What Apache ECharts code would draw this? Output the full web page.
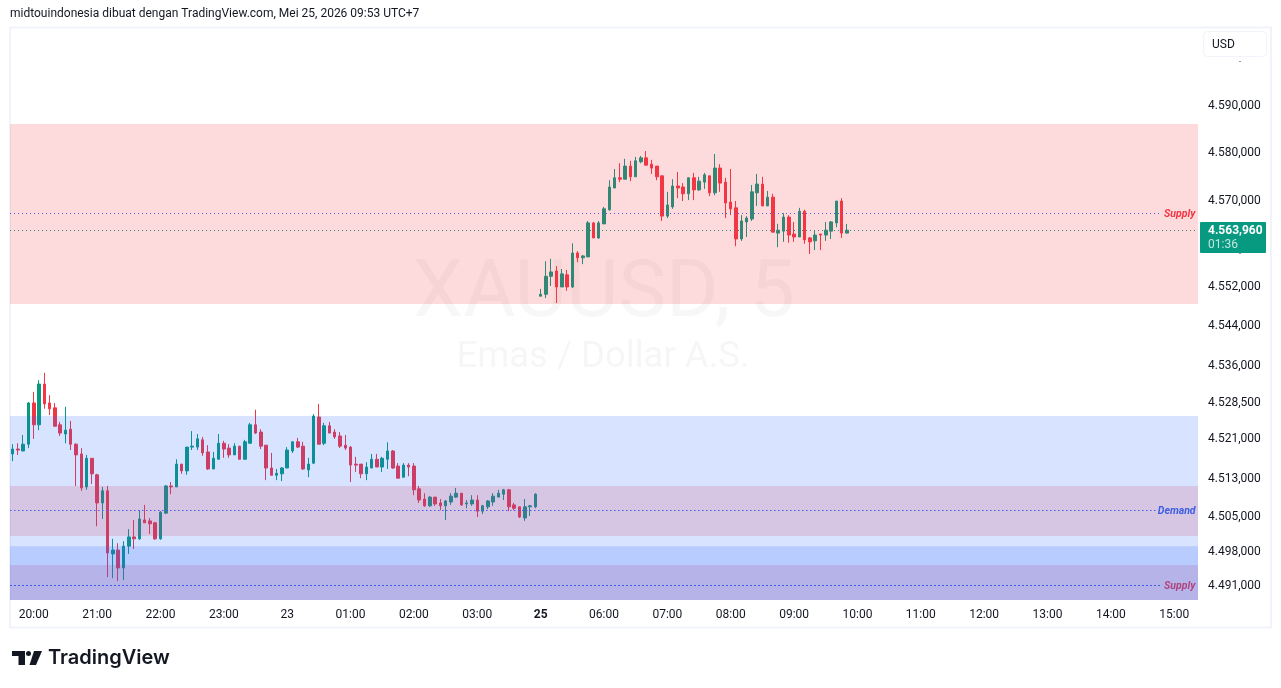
<!DOCTYPE html>
<html>
<head>
<meta charset="utf-8">
<title>XAUUSD, 5</title>
<script src="https://cdn.jsdelivr.net/npm/echarts@6/dist/echarts.min.js"></script>
<style>
html,body{margin:0;padding:0;background:#fff;}
#chart{width:1281px;height:688px;}
</style>
</head>
<body>
<div id="chart"></div>
<script>
// candles: [open, close, low, high], 5 minute bars
var fridayBars = [
[4517.9,4518.9,4516.4,4519.9],[4518.9,4518.7,4517.7,4520.1],[4518.5,4519.9,4518.5,4521.8],[4519.9,4528.4,4519.1,4528.6],
[4528.4,4523.9,4521.0,4530.7],[4523.9,4532.3,4522.8,4533.1],[4532.3,4528.2,4527.2,4534.6],[4528.4,4527.2,4525.9,4530.0],
[4527.4,4523.6,4523.6,4528.4],[4523.9,4522.2,4521.6,4524.5],[4522.0,4522.8,4520.1,4527.6],[4523.0,4519.9,4518.7,4524.7],
[4519.9,4517.7,4511.3,4520.1],[4517.9,4510.9,4510.3,4519.1],[4511.1,4517.0,4510.5,4517.7],[4517.0,4513.8,4511.7,4517.0],
[4513.6,4507.8,4503.0,4513.8],[4507.8,4510.3,4504.5,4511.1],[4510.3,4497.5,4492.5,4511.3],[4497.3,4498.1,4492.3,4500.4],
[4498.1,4494.4,4491.7,4499.5],[4494.4,4498.9,4491.9,4499.9],[4498.9,4500.8,4497.3,4502.4],[4500.8,4500.4,4498.3,4504.3],
[4500.4,4504.5,4500.2,4506.3],[4504.3,4503.7,4503.7,4507.4],[4504.1,4503.5,4501.4,4504.7],[4503.7,4500.4,4500.2,4503.9],
[4500.4,4505.9,4500.2,4506.1],[4505.7,4511.3,4505.5,4511.5],[4511.3,4511.1,4509.6,4512.1],[4511.1,4515.8,4511.1,4516.8],
[4515.8,4514.4,4513.8,4515.8],[4514.4,4519.3,4513.6,4519.3],[4519.3,4519.5,4518.7,4522.6],[4519.3,4521.0,4518.7,4522.0],
[4520.8,4518.1,4517.5,4521.4],[4518.3,4514.8,4514.6,4519.7],[4514.8,4517.0,4514.8,4518.3],[4516.8,4520.1,4516.8,4522.0],
[4520.1,4518.9,4517.1,4520.6],[4519.1,4517.7,4517.1,4519.9],[4517.7,4519.5,4517.7,4520.1],[4519.5,4516.8,4516.8,4519.5],
[4516.8,4520.4,4516.8,4520.8],[4520.1,4523.9,4520.1,4524.3],[4523.9,4522.2,4522.0,4527.0],[4522.4,4519.5,4518.9,4523.0],
[4519.7,4515.0,4512.5,4519.7],[4515.0,4513.5,4513.5,4518.1],[4513.5,4513.9,4512.5,4514.8],[4513.8,4515.0,4512.3,4515.2],
[4515.0,4518.7,4515.0,4519.3],[4518.5,4520.4,4518.1,4520.4],[4520.4,4519.3,4519.1,4521.2],[4519.5,4514.8,4514.6,4520.4],
[4514.6,4515.8,4513.1,4517.1],[4516.0,4525.7,4515.8,4526.1],[4525.5,4519.9,4519.9,4528.2],[4520.1,4523.7,4519.7,4524.3],
[4523.7,4522.2,4522.2,4524.5],[4522.4,4521.4,4521.0,4523.0],[4521.6,4519.5,4519.1,4522.4],[4519.7,4519.1,4518.7,4521.8],
[4519.3,4515.6,4512.1,4519.5],[4515.8,4515.6,4514.2,4517.3],[4515.8,4513.8,4512.9,4515.8],[4513.8,4515.2,4512.5,4516.2],
[4515.0,4516.8,4515.0,4517.9],[4516.8,4515.2,4515.2,4517.9],[4515.2,4517.0,4514.2,4517.3],[4516.8,4518.5,4514.8,4520.3],
[4518.5,4515.0,4514.8,4518.7],[4515.4,4512.9,4512.9,4516.0],[4513.1,4515.6,4513.1,4516.0],[4515.6,4515.2,4513.3,4516.0],
[4515.4,4510.5,4509.4,4516.0],[4510.7,4508.4,4507.8,4511.3],[4508.6,4507.2,4507.0,4509.8],[4507.2,4509.0,4507.0,4509.2],
[4509.0,4507.6,4507.2,4509.0],[4507.8,4507.2,4506.3,4508.6],[4507.2,4508.2,4504.3,4508.4],[4508.0,4509.2,4507.4,4509.8],
[4509.0,4509.8,4508.8,4510.9],[4509.8,4507.4,4507.2,4509.8],[4507.6,4507.8,4506.7,4508.4],[4507.6,4508.4,4507.2,4509.4],
[4508.4,4506.1,4504.9,4509.4],[4506.1,4507.2,4505.5,4507.4],[4507.0,4508.2,4506.5,4508.4],[4508.0,4509.2,4507.2,4509.8],
[4509.0,4509.8,4509.0,4510.5],[4509.6,4510.5,4508.4,4510.7],[4510.5,4507.0,4506.1,4510.7],[4507.4,4506.7,4506.3,4507.8],
[4507.0,4504.9,4504.7,4507.0],[4504.7,4507.0,4504.1,4508.6],[4507.0,4507.2,4505.1,4507.4],[4507.0,4509.6,4506.7,4509.8]
];
var mondayBars = [
[4550.4,4550.8,4550.4,4551.9],[4550.8,4554.5,4550.0,4557.6],[4554.5,4555.4,4552.5,4558.1],[4555.6,4552.3,4549.0,4556.6],
[4552.3,4555.0,4552.3,4556.0],[4554.8,4552.3,4551.5,4555.8],[4552.3,4559.3,4552.1,4561.3],[4559.3,4558.3,4557.4,4559.7],
[4558.3,4558.7,4557.0,4558.9],[4558.5,4565.5,4558.5,4565.9],[4565.5,4562.4,4562.4,4565.7],[4562.4,4565.5,4562.2,4565.9],
[4565.3,4568.4,4565.3,4568.8],[4568.2,4572.9,4568.0,4574.3],[4572.7,4574.8,4572.7,4576.6],[4574.8,4574.5,4573.9,4577.8],
[4574.5,4577.2,4574.5,4578.7],[4577.2,4575.0,4574.1,4578.3],[4575.0,4578.3,4575.0,4579.1],[4578.1,4578.9,4577.8,4579.3],
[4578.9,4577.4,4577.4,4580.3],[4577.6,4576.8,4575.6,4578.5],[4577.2,4575.0,4574.3,4577.2],[4575.2,4566.9,4565.9,4575.2],
[4566.9,4569.2,4566.5,4571.9],[4568.8,4573.1,4568.4,4574.5],[4573.1,4572.7,4570.6,4576.0],[4572.9,4571.5,4570.0,4573.7],
[4571.5,4574.8,4570.2,4574.8],[4574.8,4572.3,4570.2,4575.8],[4572.3,4574.1,4572.1,4575.0],[4573.9,4575.4,4572.5,4575.8],
[4575.2,4571.7,4571.0,4575.2],[4571.7,4576.8,4571.2,4579.7],[4576.8,4573.7,4571.9,4577.6],[4573.9,4569.6,4566.5,4574.8],
[4569.8,4568.4,4567.1,4576.6],[4568.6,4562.2,4560.7,4570.0],[4562.2,4565.9,4561.8,4567.1],[4565.7,4566.5,4562.6,4566.9],
[4566.3,4571.9,4565.9,4573.3],[4571.7,4573.5,4569.0,4575.6],[4573.5,4569.0,4569.0,4575.0],[4569.0,4570.8,4569.0,4572.1],
[4570.8,4563.6,4563.6,4571.5],[4563.4,4564.0,4560.5,4565.3],[4563.8,4566.7,4561.6,4567.5],[4566.7,4563.0,4561.4,4567.1],
[4563.2,4562.6,4561.6,4565.7],[4562.6,4567.9,4562.6,4568.6],[4567.9,4562.0,4561.2,4568.2],[4562.4,4561.6,4559.1,4562.6],
[4561.8,4563.0,4559.9,4564.0],[4563.2,4563.0,4559.9,4563.2],[4563.0,4564.0,4561.8,4565.7],[4563.8,4565.7,4562.2,4565.9],
[4565.5,4570.0,4564.6,4570.0],[4570.0,4563.4,4562.4,4570.6],[4563.4,4564.0,4563.4,4565.3]
];

// one label every 12 bars, first label on bar 4
var timeLabels = ['20:00','21:00','22:00','23:00','23','01:00','02:00','03:00','25','06:00','07:00','08:00','09:00','10:00','11:00','12:00','13:00','14:00','15:00'];

// the source axis is logarithmic, prices above were read on a straight fit of it,
// so each tick sits where its label sits on that fit
var priceTicks  = [4590.0,4580.2,4570.3,4552.5,4544.5,4536.3,4528.8,4521.2,4513.1,4505.2,4498.1,4491.0];
var priceLabels = ['4.590,000','4.580,000','4.570,000','4.552,000','4.544,000','4.536,000','4.528,500','4.521,000','4.513,000','4.505,000','4.498,000','4.491,000'];

var lastPrice = 4563.93;
var lastPriceText = '4.563,960';
var countdownText = '01:36';

// zones as [top, bottom]
var supplyZones = [[4585.9,4548.8],[4511.3,4501.0],[4495.0,4487.8]];
var demandZones = [[4525.7,4487.8],[4498.9,4487.8]];
var supplyLevels = [4567.44,4490.79];
var demandLevel = 4506.24;

var FONT = 'Roboto, sans-serif';
var INK = '#131722';
var UP = '#089981';
var DOWN = '#F23645';
var BLUE = '#2962FF';

var bars = fridayBars.concat(mondayBars);
var barCount = 225;
var categories = [];
for (var i = 0; i < barCount; i++) {
	var k = (i - 4) / 12;
	categories.push(k >= 0 && k === Math.floor(k) && timeLabels[k] ? timeLabels[k] : '');
}

function zoneData(list, color) {
	return list.map(function(z) {
		return [{yAxis: z[0], itemStyle: {color: color, opacity: 0.18}}, {yAxis: z[1]}];
	});
}

function levelSeries(value, endAt, dash, color, text, textColor) {
	return {
		type: 'line',
		xAxisIndex: 1,
		z: 3,
		silent: true,
		symbol: 'none',
		animation: false,
		data: [[0, value], [endAt, value]],
		lineStyle: {color: color, width: 1, type: dash},
		endLabel: text ? {
			show: true,
			formatter: text,
			color: textColor,
			fontFamily: FONT,
			fontStyle: 'italic',
			fontWeight: 'bold',
			fontSize: 10.5,
			distance: 2,
			verticalAlign: 'top',
			lineHeight: 2
		} : {show: false}
	};
}

var chart = echarts.init(document.getElementById('chart'), null, {renderer: 'canvas'});

var option = {
	animation: false,
	backgroundColor: '#fff',
	grid: {left: 10, top: 28, right: 83, bottom: 88},
	xAxis: [{
		type: 'category',
		data: categories,
		boundaryGap: true,
		axisLine: {show: false},
		axisTick: {show: false},
		splitLine: {show: false},
		axisLabel: {
			interval: function(index, value) { return value !== ''; },
			margin: 8.5,
			fontFamily: FONT,
			fontSize: 12,
			color: INK,
			formatter: function(value) {
				return value === '25' ? '{b|25}' : value;
			},
			rich: {b: {fontFamily: FONT, fontSize: 12, fontWeight: 'bold', color: INK}}
		}
	}, {
		type: 'value',
		min: 0,
		max: barCount,
		show: false
	}],
	yAxis: {
		type: 'value',
		position: 'right',
		min: 4487.8,
		max: 4605.66,
		scale: true,
		axisLine: {show: false},
		axisTick: {show: false},
		splitLine: {show: false},
		axisLabel: {
			customValues: priceTicks,
			margin: 10,
			verticalAlign: 'top',
			lineHeight: 3,
			fontFamily: FONT,
			fontSize: 12,
			color: INK,
			formatter: function(value) {
				return priceLabels[priceTicks.indexOf(value)];
			}
		}
	},
	series: [{
		type: 'candlestick',
		z: 2,
		barWidth: 3,
		data: bars,
		itemStyle: {color: UP, color0: DOWN, borderColor: UP, borderColor0: DOWN, borderWidth: 1}
	},
	levelSeries(lastPrice, barCount, [1, 3], UP),
	levelSeries(supplyLevels[0], 218.2, [1, 3], BLUE, 'Supply', DOWN),
	levelSeries(demandLevel, 217, [1.5, 2.5], BLUE, 'Demand', '#1E66FF'),
	levelSeries(supplyLevels[1], 218.2, [2, 2], BLUE, 'Supply', DOWN),
	{
		type: 'line',
		z: 10,
		data: [],
		markArea: {
			silent: true,
			z: 10,
			data: zoneData(supplyZones, DOWN).concat(zoneData(demandZones, BLUE))
		}
	}],
	graphic: [
		{type: 'rect', z: 0, shape: {x: 10, y: 27.5, width: 1261, height: 600}, style: {fill: 'none', stroke: '#F0F3FA', lineWidth: 2}},
		{type: 'text', z: 1, x: 604, y: 296, style: {text: 'XAUUSD, 5', fill: 'rgba(19,23,34,0.035)', font: '80px ' + FONT, textAlign: 'center', textVerticalAlign: 'middle'}},
		{type: 'text', z: 1, x: 603, y: 358, style: {text: 'Emas / Dollar A.S.', fill: 'rgba(19,23,34,0.04)', font: '36.5px ' + FONT, textAlign: 'center', textVerticalAlign: 'middle'}},
		{type: 'text', z: 20, x: 10, y: 14, style: {text: 'midtouindonesia dibuat dengan TradingView.com, Mei 25, 2026 09:53 UTC+7', fill: INK, font: '12px ' + FONT, textVerticalAlign: 'middle'}},
		{type: 'rect', z: 20, shape: {x: 1203.5, y: 31.5, width: 63, height: 25, r: 4}, style: {fill: '#fff', stroke: '#F0F3FA', lineWidth: 1}},
		{type: 'text', z: 21, x: 1212, y: 45, style: {text: 'USD', fill: INK, font: '12px ' + FONT, textVerticalAlign: 'middle'}},
		{type: 'rect', z: 20, shape: {x: 1239, y: 61, width: 2, height: 1}, style: {fill: '#9598A1'}},
		{type: 'rect', z: 20, shape: {x: 1239, y: 253, width: 2, height: 1}, style: {fill: '#9598A1'}},
		{type: 'rect', z: 20, shape: {x: 1200, y: 222, width: 66, height: 31, r: 1}, style: {fill: UP}},
		{type: 'text', z: 21, x: 1208, y: 231, style: {text: lastPriceText, fill: '#fff', font: 'bold 12px ' + FONT, textVerticalAlign: 'middle'}},
		{type: 'text', z: 21, x: 1208, y: 245, style: {text: countdownText, fill: 'rgba(255,255,255,0.75)', font: '12px ' + FONT, textVerticalAlign: 'middle'}},
		{type: 'rect', z: 20, shape: {x: 12, y: 651, width: 13, height: 5}, style: {fill: INK}},
		{type: 'rect', z: 20, shape: {x: 18.5, y: 651, width: 6.5, height: 14}, style: {fill: INK}},
		{type: 'circle', z: 20, shape: {cx: 28.5, cy: 653.5, r: 2.5}, style: {fill: INK}},
		{type: 'polygon', z: 20, shape: {points: [[34, 651], [42, 651], [36, 665], [29.5, 665]]}, style: {fill: INK}},
		{type: 'text', z: 20, x: 48, y: 658, style: {text: 'TradingView', fill: INK, font: '600 20px Inter, ' + FONT, textVerticalAlign: 'middle'}}
	]
};

chart.setOption(option);
</script>
</body>
</html>
